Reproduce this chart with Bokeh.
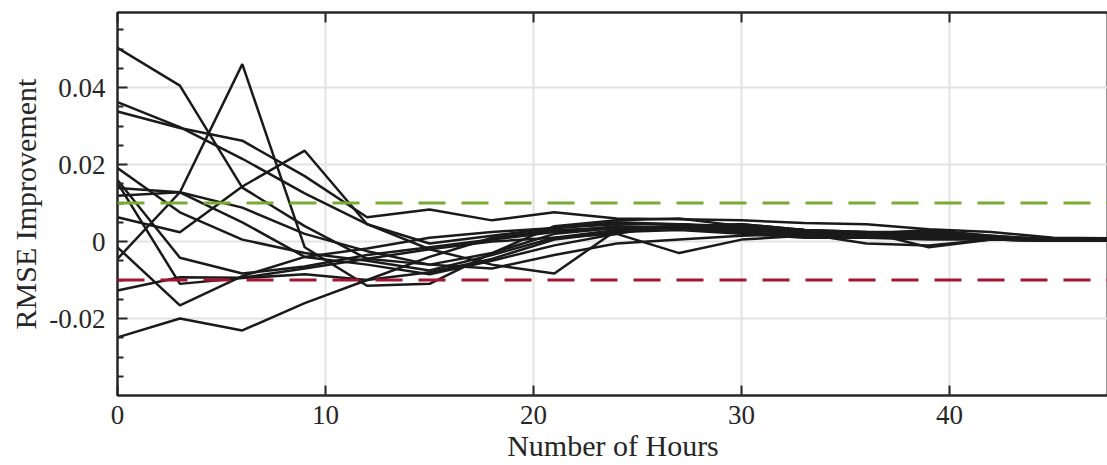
from bokeh.plotting import figure
from bokeh.models import Range1d, FixedTicker, LinearAxis, Span, CustomJSTickFormatter
from bokeh.embed import file_html
from bokeh.resources import INLINE

hours = [0, 3, 6, 9, 12, 15, 18, 21, 24, 27, 30, 33, 36, 39, 42, 45, 48]

series = [
    [0.0503, 0.0405, 0.0140, 0.0040, -0.0045, -0.0060, -0.0030, 0.0020, 0.0035, 0.0040, 0.0030, 0.0020, 0.0020, 0.0015, 0.0010, 0.0005, 0.0005],
    [0.0362, 0.0297, 0.0215, 0.0125, 0.0045, -0.0005, 0.0015, 0.0035, 0.0045, 0.0045, 0.0040, 0.0025, 0.0015, 0.0020, 0.0010, 0.0005, 0.0005],
    [0.0338, 0.0295, 0.0262, 0.0170, 0.0063, 0.0083, 0.0055, 0.0076, 0.0060, 0.0058, 0.0055, 0.0048, 0.0045, 0.0032, 0.0025, 0.0010, 0.0008],
    [0.0191, 0.0076, 0.0005, -0.0030, -0.0050, -0.0075, -0.0035, 0.0010, 0.0030, 0.0035, 0.0025, 0.0015, 0.0010, 0.0010, 0.0005, 0.0003, 0.0003],
    [0.0160, -0.0042, -0.0083, -0.0065, -0.0035, -0.0015, 0.0005, 0.0025, 0.0040, 0.0035, 0.0030, 0.0025, 0.0015, 0.0010, 0.0008, 0.0005, 0.0005],
    [0.0152, -0.0110, -0.0095, -0.0085, -0.0100, -0.0080, -0.0045, 0.0005, 0.0025, 0.0030, 0.0020, 0.0010, 0.0010, 0.0005, 0.0005, 0.0003, 0.0003],
    [0.0139, 0.0128, 0.0088, 0.0020, -0.0025, -0.0060, -0.0070, -0.0035, -0.0005, 0.0005, 0.0015, 0.0020, 0.0015, 0.0010, 0.0008, 0.0005, 0.0005],
    [0.0119, 0.0128, 0.0050, -0.0040, -0.0060, -0.0085, -0.0050, -0.0010, 0.0020, 0.0045, 0.0035, 0.0030, 0.0020, 0.0020, 0.0010, 0.0005, 0.0005],
    [0.0063, 0.0024, 0.0143, 0.0236, 0.0045, -0.0020, -0.0060, -0.0083, 0.0030, 0.0040, 0.0045, 0.0030, 0.0020, 0.0030, 0.0015, 0.0005, 0.0005],
    [-0.0015, -0.0166, -0.0090, -0.0040, -0.0018, 0.0010, 0.0025, 0.0035, 0.0050, 0.0045, 0.0035, 0.0020, -0.0005, -0.0010, 0.0005, 0.0003, 0.0003],
    [-0.0045, 0.0128, 0.0461, -0.0015, -0.0115, -0.0110, -0.0030, 0.0040, 0.0055, 0.0060, 0.0040, 0.0030, 0.0025, 0.0025, 0.0015, 0.0005, 0.0005],
    [-0.0127, -0.0093, -0.0094, -0.0070, -0.0045, -0.0020, 0.0000, 0.0010, 0.0020, -0.0030, 0.0005, 0.0015, 0.0010, 0.0010, 0.0005, 0.0003, 0.0003],
    [-0.0249, -0.0200, -0.0231, -0.0160, -0.0100, -0.0040, 0.0010, 0.0030, 0.0035, 0.0040, 0.0045, 0.0030, 0.0025, -0.0015, 0.0005, 0.0003, 0.0003],
]

upper_threshold = 0.01
lower_threshold = -0.01

x_ticks = [0, 10, 20, 30, 40]
y_ticks = [-0.02, 0, 0.02, 0.04]
y_minor = [-0.035, -0.03, -0.025, -0.015, -0.01, -0.005, 0.005, 0.01, 0.015,
           0.025, 0.03, 0.035, 0.045, 0.05, 0.055]

FONT = "Liberation Serif"
AX = "#262626"

p = figure(width=1108, height=465, output_backend="svg", toolbar_location=None,
           frame_width=991, frame_height=383,
           x_range=Range1d(0, 47.64), y_range=Range1d(-0.0400, 0.0595),
           min_border_left=117, min_border_right=0, min_border_top=12, min_border_bottom=10,
           background_fill_color="white", border_fill_color="white")

p.outline_line_color = AX
p.outline_line_width = 2

for ys in series:
    p.line(hours, ys, line_color="#1a1a1a", line_width=2.5)

p.add_layout(Span(location=upper_threshold, dimension="width", line_color="#77AC30",
                  line_width=3, line_dash="27 16"))
p.add_layout(Span(location=lower_threshold, dimension="width", line_color="#A2142F",
                  line_width=3, line_dash="27 16"))

p.xaxis.ticker = FixedTicker(ticks=x_ticks)
p.yaxis.ticker = FixedTicker(ticks=y_ticks, minor_ticks=y_minor)
p.yaxis.formatter = CustomJSTickFormatter(code="return tick == 0 ? '0' : tick.toFixed(2);")

for ax in [p.xaxis[0], p.yaxis[0]]:
    ax.axis_line_color = AX
    ax.axis_line_width = 2
    ax.major_tick_line_color = AX
    ax.major_tick_line_width = 2
    ax.major_tick_in = 10
    ax.major_tick_out = 0
    ax.minor_tick_line_color = AX
    ax.minor_tick_line_width = 2
    ax.minor_tick_in = 6
    ax.minor_tick_out = 0
    ax.major_label_text_font = FONT
    ax.major_label_text_font_size = "27px"
    ax.major_label_text_color = "#262626"
    ax.axis_label_text_font = FONT
    ax.axis_label_text_font_size = "30px"
    ax.axis_label_text_font_style = "normal"
    ax.axis_label_text_color = "#262626"

p.xaxis.minor_tick_line_color = None
p.xaxis.axis_label = "Number of Hours"
p.yaxis.axis_label = "RMSE Improvement"
p.xaxis.major_label_standoff = 10
p.yaxis.major_label_standoff = 12
p.xaxis.axis_label_standoff = 2
p.yaxis.axis_label_standoff = 4

top = LinearAxis(ticker=FixedTicker(ticks=x_ticks), axis_line_color=AX, axis_line_width=2,
                 major_tick_in=10, major_tick_out=0, major_tick_line_color=AX,
                 major_tick_line_width=2, minor_tick_line_color=None,
                 formatter=CustomJSTickFormatter(code="return '';"),
                 major_label_text_font_size="10px", major_label_standoff=0)
p.add_layout(top, "above")

p.xgrid.grid_line_color = "#e2e2e2"
p.ygrid.grid_line_color = "#e2e2e2"
p.xgrid.grid_line_width = 2
p.ygrid.grid_line_width = 2

open("out.html", "w").write(file_html(p, INLINE))
